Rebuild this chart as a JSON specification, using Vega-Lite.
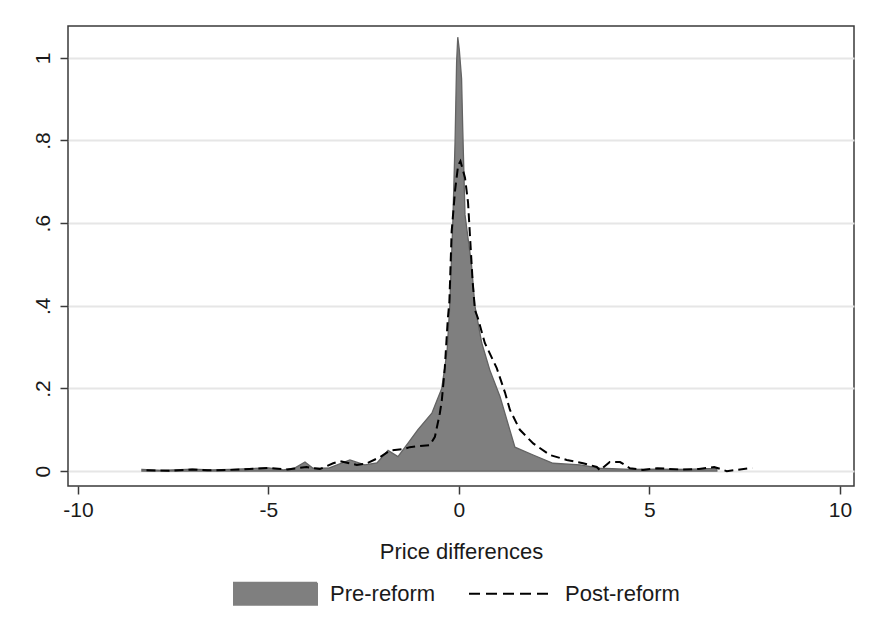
{
  "$schema": "https://vega.github.io/schema/vega-lite/v6.json",
  "autosize": {"type": "none"},
  "width": 786,
  "height": 460,
  "padding": {"left": 68, "top": 26, "right": 20, "bottom": 137},
  "background": "white",
  "config": {
    "font": "Liberation Sans",
    "view": {"stroke": "#3a3a3a", "strokeWidth": 1.5},
    "axis": {"labelFont": "Liberation Sans", "titleFont": "Liberation Sans", "labelColor": "#1a1a1a", "titleColor": "#1a1a1a", "tickColor": "#3a3a3a", "domain": false}
  },
  "data": {"values": [
    {"x": -8.32, "y": 0.004, "series": "Pre-reform"},
    {"x": -7.8, "y": 0.002, "series": "Pre-reform"},
    {"x": -7.0, "y": 0.005, "series": "Pre-reform"},
    {"x": -6.5, "y": 0.003, "series": "Pre-reform"},
    {"x": -6.0, "y": 0.004, "series": "Pre-reform"},
    {"x": -5.5, "y": 0.006, "series": "Pre-reform"},
    {"x": -5.0, "y": 0.008, "series": "Pre-reform"},
    {"x": -4.6, "y": 0.003, "series": "Pre-reform"},
    {"x": -4.3, "y": 0.008, "series": "Pre-reform"},
    {"x": -4.04, "y": 0.022, "series": "Pre-reform"},
    {"x": -3.83, "y": 0.007, "series": "Pre-reform"},
    {"x": -3.4, "y": 0.008, "series": "Pre-reform"},
    {"x": -2.86, "y": 0.027, "series": "Pre-reform"},
    {"x": -2.47, "y": 0.015, "series": "Pre-reform"},
    {"x": -2.15, "y": 0.02, "series": "Pre-reform"},
    {"x": -1.86, "y": 0.05, "series": "Pre-reform"},
    {"x": -1.6, "y": 0.035, "series": "Pre-reform"},
    {"x": -1.34, "y": 0.067, "series": "Pre-reform"},
    {"x": -1.08, "y": 0.1, "series": "Pre-reform"},
    {"x": -0.71, "y": 0.14, "series": "Pre-reform"},
    {"x": -0.58, "y": 0.17, "series": "Pre-reform"},
    {"x": -0.45, "y": 0.2, "series": "Pre-reform"},
    {"x": -0.31, "y": 0.29, "series": "Pre-reform"},
    {"x": -0.24, "y": 0.4, "series": "Pre-reform"},
    {"x": -0.16, "y": 0.6, "series": "Pre-reform"},
    {"x": -0.1, "y": 0.8, "series": "Pre-reform"},
    {"x": -0.06, "y": 0.99, "series": "Pre-reform"},
    {"x": -0.03, "y": 1.05, "series": "Pre-reform"},
    {"x": 0.01, "y": 1.02, "series": "Pre-reform"},
    {"x": 0.07, "y": 0.95, "series": "Pre-reform"},
    {"x": 0.1, "y": 0.83, "series": "Pre-reform"},
    {"x": 0.16, "y": 0.62, "series": "Pre-reform"},
    {"x": 0.33, "y": 0.5, "series": "Pre-reform"},
    {"x": 0.42, "y": 0.4, "series": "Pre-reform"},
    {"x": 0.6, "y": 0.31, "series": "Pre-reform"},
    {"x": 0.81, "y": 0.245, "series": "Pre-reform"},
    {"x": 1.08, "y": 0.18, "series": "Pre-reform"},
    {"x": 1.47, "y": 0.058, "series": "Pre-reform"},
    {"x": 1.95, "y": 0.039, "series": "Pre-reform"},
    {"x": 2.47, "y": 0.019, "series": "Pre-reform"},
    {"x": 3.18, "y": 0.015, "series": "Pre-reform"},
    {"x": 3.7, "y": 0.007, "series": "Pre-reform"},
    {"x": 4.5, "y": 0.004, "series": "Pre-reform"},
    {"x": 5.2, "y": 0.005, "series": "Pre-reform"},
    {"x": 6.0, "y": 0.004, "series": "Pre-reform"},
    {"x": 6.5, "y": 0.006, "series": "Pre-reform"},
    {"x": 6.77, "y": 0.006, "series": "Pre-reform"},
    {"x": -8.2, "y": 0.002, "series": "Post-reform"},
    {"x": -7.6, "y": 0.001, "series": "Post-reform"},
    {"x": -7.0, "y": 0.004, "series": "Post-reform"},
    {"x": -6.6, "y": 0.002, "series": "Post-reform"},
    {"x": -6.0, "y": 0.003, "series": "Post-reform"},
    {"x": -5.5, "y": 0.005, "series": "Post-reform"},
    {"x": -5.0, "y": 0.008, "series": "Post-reform"},
    {"x": -4.5, "y": 0.004, "series": "Post-reform"},
    {"x": -4.0, "y": 0.01, "series": "Post-reform"},
    {"x": -3.65, "y": 0.005, "series": "Post-reform"},
    {"x": -3.3, "y": 0.019, "series": "Post-reform"},
    {"x": -3.12, "y": 0.024, "series": "Post-reform"},
    {"x": -2.68, "y": 0.015, "series": "Post-reform"},
    {"x": -2.41, "y": 0.019, "series": "Post-reform"},
    {"x": -2.07, "y": 0.034, "series": "Post-reform"},
    {"x": -1.81, "y": 0.05, "series": "Post-reform"},
    {"x": -1.47, "y": 0.053, "series": "Post-reform"},
    {"x": -1.29, "y": 0.058, "series": "Post-reform"},
    {"x": -0.76, "y": 0.063, "series": "Post-reform"},
    {"x": -0.63, "y": 0.083, "series": "Post-reform"},
    {"x": -0.5, "y": 0.14, "series": "Post-reform"},
    {"x": -0.45, "y": 0.17, "series": "Post-reform"},
    {"x": -0.37, "y": 0.25, "series": "Post-reform"},
    {"x": -0.29, "y": 0.37, "series": "Post-reform"},
    {"x": -0.25, "y": 0.41, "series": "Post-reform"},
    {"x": -0.19, "y": 0.58, "series": "Post-reform"},
    {"x": -0.1, "y": 0.68, "series": "Post-reform"},
    {"x": -0.02, "y": 0.74, "series": "Post-reform"},
    {"x": 0.04, "y": 0.75, "series": "Post-reform"},
    {"x": 0.16, "y": 0.71, "series": "Post-reform"},
    {"x": 0.24, "y": 0.65, "series": "Post-reform"},
    {"x": 0.29, "y": 0.57, "series": "Post-reform"},
    {"x": 0.36, "y": 0.46, "series": "Post-reform"},
    {"x": 0.42, "y": 0.39, "series": "Post-reform"},
    {"x": 0.5, "y": 0.37, "series": "Post-reform"},
    {"x": 0.68, "y": 0.31, "series": "Post-reform"},
    {"x": 0.99, "y": 0.25, "series": "Post-reform"},
    {"x": 1.21, "y": 0.19, "series": "Post-reform"},
    {"x": 1.34, "y": 0.148, "series": "Post-reform"},
    {"x": 1.6, "y": 0.1, "series": "Post-reform"},
    {"x": 1.95, "y": 0.067, "series": "Post-reform"},
    {"x": 2.39, "y": 0.039, "series": "Post-reform"},
    {"x": 2.83, "y": 0.027, "series": "Post-reform"},
    {"x": 3.26, "y": 0.019, "series": "Post-reform"},
    {"x": 3.62, "y": 0.01, "series": "Post-reform"},
    {"x": 3.7, "y": 0.002, "series": "Post-reform"},
    {"x": 3.96, "y": 0.022, "series": "Post-reform"},
    {"x": 4.23, "y": 0.022, "series": "Post-reform"},
    {"x": 4.49, "y": 0.007, "series": "Post-reform"},
    {"x": 4.83, "y": 0.003, "series": "Post-reform"},
    {"x": 5.2, "y": 0.007, "series": "Post-reform"},
    {"x": 5.8, "y": 0.004, "series": "Post-reform"},
    {"x": 6.3, "y": 0.005, "series": "Post-reform"},
    {"x": 6.7, "y": 0.01, "series": "Post-reform"},
    {"x": 7.03, "y": 0.0, "series": "Post-reform"},
    {"x": 7.3, "y": 0.003, "series": "Post-reform"},
    {"x": 7.64, "y": 0.007, "series": "Post-reform"},
    {"x": 7.7, "y": 0.007, "series": "Post-reform"}
  ]},
  "encoding": {
    "x": {
      "field": "x", "type": "quantitative",
      "scale": {"domain": [-10.26, 10.37], "nice": false, "zero": false},
      "axis": {"values": [-10, -5, 0, 5, 10], "title": "Price differences", "labelExpr": "datum.value < 0 ? '-' + abs(datum.value) : '' + datum.value", "labelFontSize": 21, "titleFontSize": 22, "titleFontWeight": "normal", "tickSize": 8, "tickWidth": 1.5, "labelPadding": 5, "titlePadding": 21, "grid": false}
    },
    "y": {
      "field": "y", "type": "quantitative",
      "scale": {"domain": [-0.036, 1.077], "nice": false, "zero": false},
      "axis": {"values": [0, 0.2, 0.4, 0.6, 0.8, 1], "title": null, "labelExpr": "datum.value == 0 ? '0' : datum.value == 1 ? '1' : replace(format(datum.value, '.1f'), '0.', '.')", "labelAngle": -90, "labelFontSize": 21, "tickSize": 8, "tickWidth": 1.5, "labelPadding": 7, "grid": true, "gridColor": "#e6e6e6", "gridWidth": 2}
    },
    "color": {
      "field": "series", "type": "nominal",
      "scale": {"domain": ["Pre-reform", "Post-reform"], "range": ["#7f7f7f", "#000000"]},
      "legend": {
        "title": null, "orient": "none", "direction": "horizontal", "legendX": 165, "legendY": 525,
        "symbolSize": 6889, "labelFontSize": 22, "labelColor": "#1a1a1a", "labelOffset": 12, "columnPadding": 29,
        "encode": {"symbols": {"update": {
          "shape": {"signal": "datum.value == 'Pre-reform' ? 'M-1,-0.265H1V0.265H-1Z' : 'M-1,-0.265M-1,0.265M-1,0H1'"},
          "size": {"value": 6889},
          "fill": {"signal": "datum.value == 'Pre-reform' ? '#7f7f7f' : 'transparent'"},
          "stroke": {"signal": "datum.value == 'Pre-reform' ? '#5f5f5f' : '#000000'"},
          "strokeDash": {"signal": "datum.value == 'Pre-reform' ? [1, 0] : [11, 6]"},
          "strokeWidth": {"value": 2},
          "opacity": {"value": 1}
        }}}
      }
    }
  },
  "layer": [
    {
      "transform": [{"filter": "datum.series == 'Pre-reform'"}],
      "mark": {"type": "area", "opacity": 1, "stroke": "#636363", "strokeWidth": 1.3}
    },
    {
      "transform": [{"filter": "datum.series == 'Post-reform'"}],
      "mark": {"type": "line", "strokeDash": [9, 5], "strokeWidth": 2}
    }
  ]
}
